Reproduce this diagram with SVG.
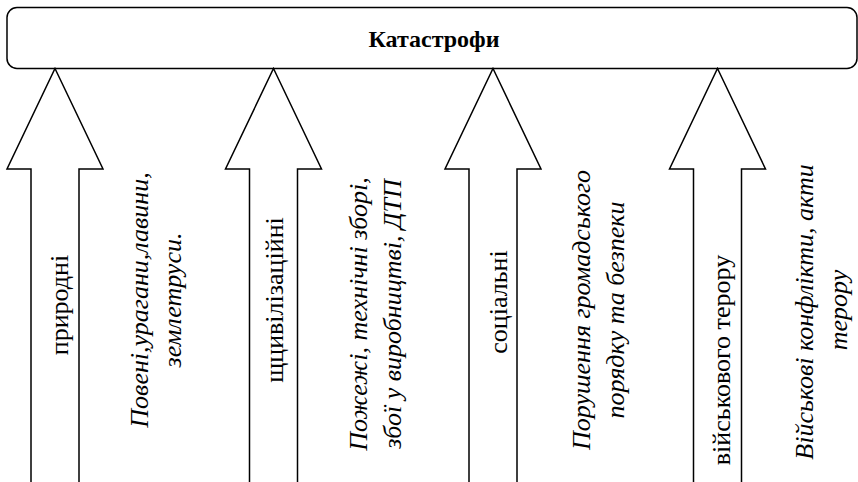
<svg xmlns="http://www.w3.org/2000/svg" width="858" height="482" viewBox="0 0 858 482">
<style>
.box{fill:#fff;stroke:#000;stroke-width:1.5}
.arr{fill:#fff;stroke:#000;stroke-width:1.5;stroke-linejoin:miter}
text{font-family:'Liberation Serif','DejaVu Serif',serif;text-anchor:middle;fill:#000}
.title{font-weight:bold;font-size:24px}
.lbl{font-size:26px}
.it{font-style:italic;font-size:26px}
</style>
<rect width="858" height="482" fill="#fff"/>
<g id="catastrophes">
<rect class="box" x="7" y="7.5" width="850" height="61" rx="10" ry="10"/>
<text class="title" x="434" y="47">Катастрофи</text>
</g>
<g id="connectors">
<polygon id="arrow-natural" class="arr" points="55,68.5 103,169 79,169 79,484 31,484 31,169 7,169"/>
<polygon id="arrow-civil" class="arr" points="273.5,68.5 321.5,169 297.5,169 297.5,484 249.5,484 249.5,169 225.5,169"/>
<polygon id="arrow-social" class="arr" points="493,68.5 541,169 517,169 517,484 469,484 469,169 445,169"/>
<polygon id="arrow-military" class="arr" points="717.5,68.5 765.5,169 741.5,169 741.5,484 693.5,484 693.5,169 669.5,169"/>
</g>
<g id="natural">
<text class="lbl" transform="translate(68,305) rotate(-90)">природні</text>
<text class="it" transform="translate(148,300) rotate(-90)">Повені,урагани,лавини,</text>
<text class="it" transform="translate(181,300) rotate(-90)">землетруси.</text>
</g>
<g id="civil">
<text class="lbl" transform="translate(283,300) rotate(-90)">щцивілізаційні</text>
<text class="it" transform="translate(367,314) rotate(-90)">Пожежі, технічні зборі,</text>
<text class="it" transform="translate(401,314) rotate(-90)">збої у виробництві, ДТП</text>
</g>
<g id="social">
<text class="lbl" transform="translate(507,302) rotate(-90)">соціальні</text>
<text class="it" transform="translate(590,310) rotate(-90)">Порушення громадського</text>
<text class="it" transform="translate(624,310) rotate(-90)">порядку та безпеки</text>
</g>
<g id="military">
<text class="lbl" transform="translate(730,360) rotate(-90)">військового терору</text>
<text class="it" transform="translate(813,312) rotate(-90)">Військові конфлікти, акти</text>
<text class="it" transform="translate(847,310) rotate(-90)">терору</text>
</g>
</svg>
